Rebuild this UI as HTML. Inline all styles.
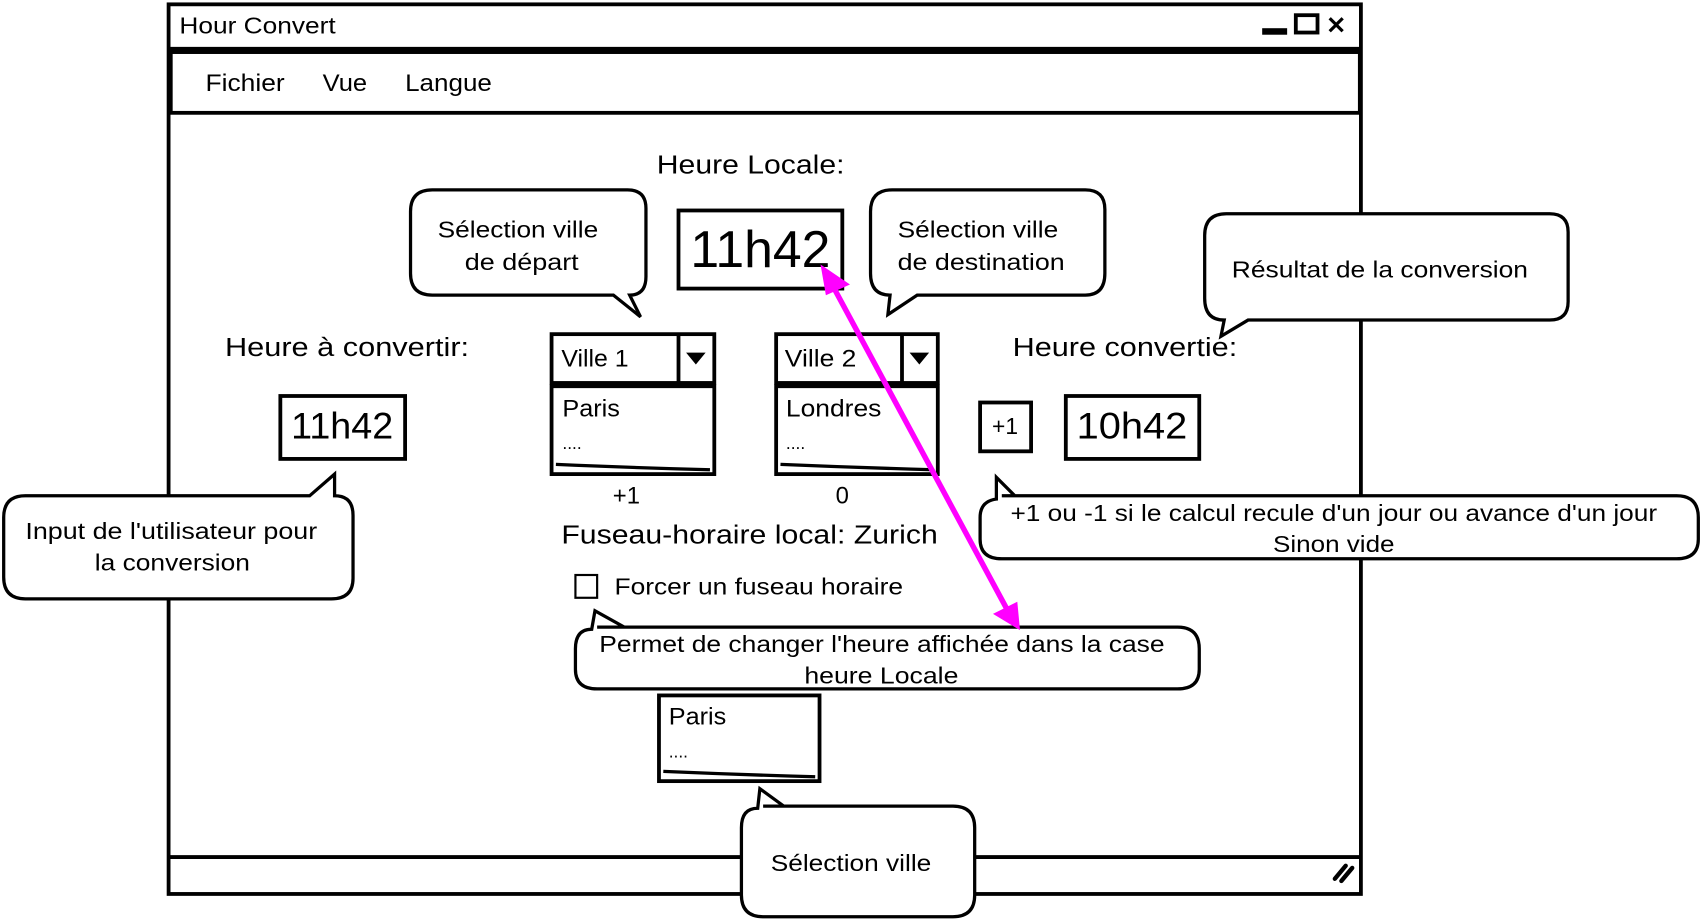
<!DOCTYPE html>
<html><head><meta charset="utf-8"><style>
html,body{margin:0;padding:0;background:#fff;}
svg{display:block}
text{font-family:"Liberation Sans",sans-serif;fill:#000}
</style></head><body>
<svg width="1702" height="920" viewBox="0 0 1568 848" xmlns="http://www.w3.org/2000/svg">
<g fill="#fff" stroke="#000" stroke-width="3.5">
<rect x="155" y="4" width="1099" height="820"/>
<line x1="155" y1="45" x2="1254" y2="45"/>
<rect x="157" y="48" width="1096" height="56"/>
<line x1="155" y1="790" x2="1254" y2="790"/>
</g>
<g lengthAdjust="spacingAndGlyphs">
<text x="165" y="31" font-size="21" textLength="144" lengthAdjust="spacingAndGlyphs">Hour Convert</text>
<text x="189" y="84" font-size="22" textLength="73" lengthAdjust="spacingAndGlyphs">Fichier</text>
<text x="297" y="84" font-size="22" textLength="41" lengthAdjust="spacingAndGlyphs">Vue</text>
<text x="373" y="84" font-size="22" textLength="80" lengthAdjust="spacingAndGlyphs">Langue</text>
</g>
<rect x="1163" y="26" width="23" height="6" fill="#000"/>
<rect x="1194" y="14" width="20" height="16" fill="none" stroke="#000" stroke-width="3.5"/>
<text x="1222" y="31" font-size="22" font-weight="bold">✕</text>
<path d="M1230 810 L1240 798 M1236 812 L1246 800" stroke="#000" stroke-width="4" stroke-linecap="round"/>

<text x="605" y="160" font-size="24" textLength="173" lengthAdjust="spacingAndGlyphs">Heure Locale:</text>
<rect x="625" y="194" width="151" height="72" fill="#fff" stroke="#000" stroke-width="3.5"/>
<text x="636" y="246" font-size="48" textLength="129" lengthAdjust="spacingAndGlyphs">11h42</text>

<text x="207" y="328" font-size="24" textLength="225" lengthAdjust="spacingAndGlyphs">Heure à convertir:</text>
<text x="933" y="328" font-size="24" textLength="207" lengthAdjust="spacingAndGlyphs">Heure convertie:</text>

<g fill="#fff" stroke="#000" stroke-width="3.5">
<rect x="508" y="308" width="150" height="45"/>
<line x1="625" y1="308" x2="625" y2="353"/>
<rect x="508" y="356" width="150" height="81"/>
<rect x="715" y="308" width="149" height="45"/>
<line x1="831" y1="308" x2="831" y2="353"/>
<rect x="715" y="356" width="149" height="81"/>
<rect x="258" y="365" width="115" height="58"/>
<rect x="903" y="371" width="47" height="45"/>
<rect x="982" y="365" width="123" height="58"/>
<rect x="530" y="530" width="20" height="21" stroke-width="2"/>
<rect x="607" y="641" width="148" height="79"/>
</g>
<path d="M632 325 L650 325 L641 336 Z M838 325 L856 325 L847 336 Z" fill="#000"/>
<path d="M512 428 Q580 431 654 433 M719 428 Q790 431 860 433 M611 711 Q680 714 751 716" stroke="#000" stroke-width="3" fill="none"/>
<text x="517" y="338" font-size="22" textLength="62" lengthAdjust="spacingAndGlyphs">Ville 1</text>
<text x="723" y="338" font-size="22" textLength="66" lengthAdjust="spacingAndGlyphs">Ville 2</text>
<text x="518" y="384" font-size="22" textLength="53" lengthAdjust="spacingAndGlyphs">Paris</text>
<text x="518" y="414" font-size="16">....</text>
<text x="724" y="384" font-size="22" textLength="88" lengthAdjust="spacingAndGlyphs">Londres</text>
<text x="724" y="414" font-size="16">....</text>
<text x="616" y="668" font-size="22" textLength="53" lengthAdjust="spacingAndGlyphs">Paris</text>
<text x="616" y="698" font-size="16">....</text>
<text x="268" y="404" font-size="34" textLength="94" lengthAdjust="spacingAndGlyphs">11h42</text>
<text x="926" y="400" font-size="21" text-anchor="middle">+1</text>
<text x="992" y="404" font-size="34" textLength="102" lengthAdjust="spacingAndGlyphs">10h42</text>
<text x="577" y="464" font-size="22" text-anchor="middle">+1</text>
<text x="776" y="464" font-size="22" text-anchor="middle">0</text>
<text x="517" y="501" font-size="24" textLength="347" lengthAdjust="spacingAndGlyphs">Fuseau-horaire local: Zurich</text>
<text x="566" y="548" font-size="21" textLength="266" lengthAdjust="spacingAndGlyphs">Forcer un fuseau horaire</text>

<g fill="#fff" stroke="#000" stroke-width="3">
<path d="M398 175 H578 Q595 175 595 192 V255 Q595 272 580 272 L590 292 L565 272 H398 Q378 272 378 252 V195 Q378 175 398 175 Z"/>
<path d="M822 175 H1000 Q1018 175 1018 193 V252 Q1018 272 1000 272 H845 L818 290 L820 272 Q802 272 802 252 V195 Q802 175 822 175 Z"/>
<path d="M1130 197 H1428 Q1445 197 1445 214 V278 Q1445 295 1428 295 H1150 L1125 310 L1128 295 Q1110 295 1110 275 V217 Q1110 197 1130 197 Z"/>
<path d="M23 457 H285 L308 437 L308 457 Q325 457 325 475 V533 Q325 552 305 552 H23 Q3 552 3 532 V477 Q3 457 23 457 Z"/>
<path d="M923 457 H1545 Q1565 457 1565 477 V497 Q1565 515 1545 515 H923 Q903 515 903 497 V477 Q903 462 918 460 L918 440 L935 457 Z"/>
<path d="M550 578 H1085 Q1105 578 1105 598 V617 Q1105 635 1085 635 H550 Q530 635 530 617 V598 Q530 580 545 580 L548 563 L575 578 Z"/>
<path d="M703 743 H878 Q898 743 898 763 V825 Q898 845 878 845 H703 Q683 845 683 825 V763 Q683 745 698 745 L700 727 L722 743 Z"/>
</g>
<text x="403" y="219" font-size="21" textLength="148" lengthAdjust="spacingAndGlyphs">Sélection ville</text>
<text x="428" y="249" font-size="21" textLength="105" lengthAdjust="spacingAndGlyphs">de départ</text>
<text x="827" y="219" font-size="21" textLength="148" lengthAdjust="spacingAndGlyphs">Sélection ville</text>
<text x="827" y="249" font-size="21" textLength="154" lengthAdjust="spacingAndGlyphs">de destination</text>
<text x="1135" y="256" font-size="21" textLength="273" lengthAdjust="spacingAndGlyphs">Résultat de la conversion</text>
<text x="23" y="497" font-size="21" textLength="269" lengthAdjust="spacingAndGlyphs">Input de l'utilisateur pour</text>
<text x="87" y="526" font-size="21" textLength="143" lengthAdjust="spacingAndGlyphs">la conversion</text>
<text x="931" y="480" font-size="21" textLength="596" lengthAdjust="spacingAndGlyphs">+1 ou -1 si le calcul recule d'un jour ou avance d'un jour</text>
<text x="1173" y="509" font-size="21" textLength="112" lengthAdjust="spacingAndGlyphs">Sinon vide</text>
<text x="552" y="601" font-size="21" textLength="521" lengthAdjust="spacingAndGlyphs">Permet de changer l'heure affichée dans la case</text>
<text x="741" y="630" font-size="21" textLength="142" lengthAdjust="spacingAndGlyphs">heure Locale</text>
<text x="710" y="803" font-size="21" textLength="148" lengthAdjust="spacingAndGlyphs">Sélection ville</text>

<line x1="768" y1="265" x2="928" y2="562" stroke="#f0f" stroke-width="5"/>
<path d="M758 247 L780 262 L762 270 Z" fill="#f0f" stroke="#f0f" stroke-width="3"/>
<path d="M938 578 L918 566 L936 557 Z" fill="#f0f" stroke="#f0f" stroke-width="3"/>
</svg>
</body></html>
